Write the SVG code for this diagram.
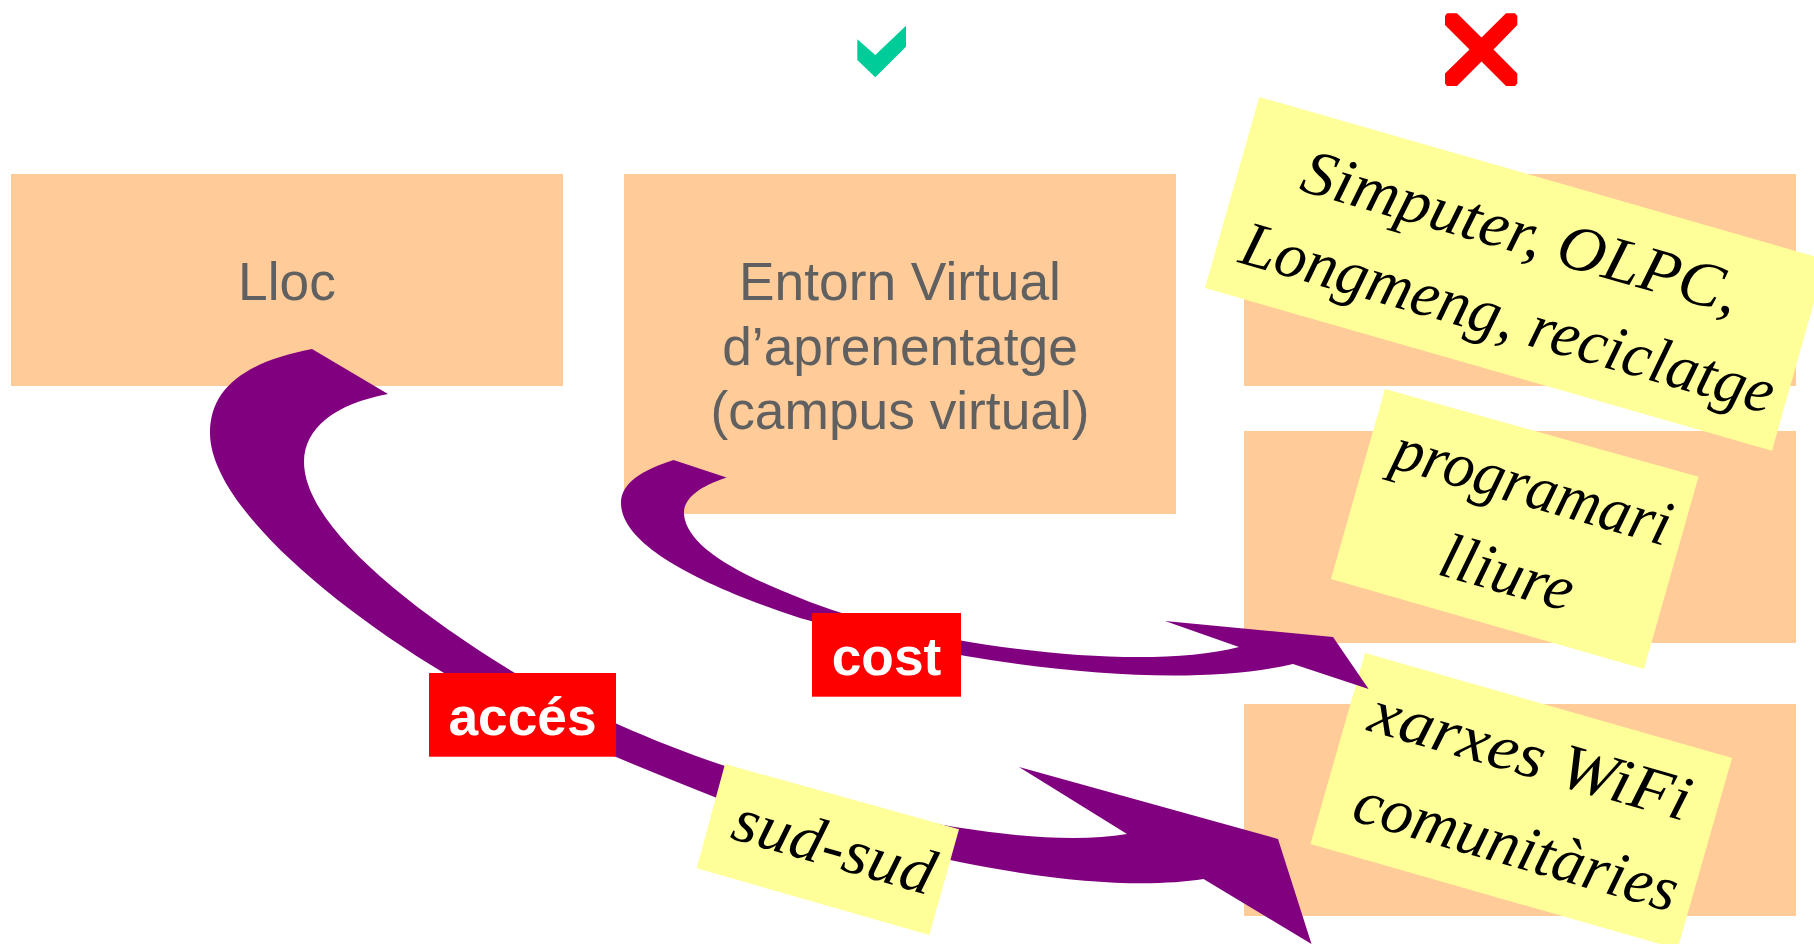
<svg xmlns="http://www.w3.org/2000/svg" width="1814" height="944" viewBox="0 0 1814 944">
<style>
.box{fill:#ffcc99}
.lbl{font-family:"Liberation Sans",Arial,sans-serif;font-size:53.3px;fill:#606060;text-anchor:middle}
.arrow{fill:#800080}
.tag{fill:#ff0000}
.tagt{font-family:"Liberation Sans",Arial,sans-serif;font-size:53.3px;font-weight:bold;fill:#fff;text-anchor:middle}
.note{fill:#ffff99}
.nt{font-family:"Liberation Serif","Times New Roman",serif;font-style:italic;font-size:64px;fill:#000}
</style>
<rect width="1814" height="944" fill="#fff"/>
<g id="check"><polygon fill="#00cc99" points="857.3,39.3 875.3,55 906,25.7 906,46.7 875.3,77.3 857.3,60"/></g>
<g id="cross"><polygon fill="#ff0000" points="1447,13.3 1457,13.3 1481.5,37.5 1506,13.3 1515,13.3 1517.3,16 1517.3,25 1493.5,49.5 1517.3,73.5 1517.3,83.5 1515,86 1506,86 1481.5,61.5 1457,86 1447,86 1445,83.5 1445,73.5 1469.5,49.5 1445,25 1445,16"/></g>
<g id="lloc"><rect class="box" x="11" y="174" width="552" height="212"/><text class="lbl" x="287" y="300">Lloc</text></g>
<g id="entorn"><rect class="box" x="624" y="174" width="552" height="340"/><text class="lbl" x="900" y="300">Entorn Virtual</text><text class="lbl" x="900" y="365">d’aprenentatge</text><text class="lbl" x="900" y="429">(campus virtual)</text></g>
<g id="box-r1"><rect class="box" x="1244" y="174" width="552" height="212"/></g>
<g id="box-r2"><rect class="box" x="1244" y="431" width="552" height="212"/></g>
<g id="box-r3"><rect class="box" x="1244" y="704" width="552" height="212"/></g>
<g id="note-xarxes"><polygon class="note" points="1365,653 1310.5,844 1677.5,949 1732,758"/><text class="nt" transform="translate(1366,730) rotate(16)" textLength="331" lengthAdjust="spacingAndGlyphs">xarxes WiFi</text><text class="nt" transform="translate(1350,820) rotate(16)">comunitàries</text></g>
<g id="connectors">
<path class="arrow" d="M388,394 C335,404 304,428 304,462 C304,520 395,600 515,673 C548,693 640,738 725,766 C860,815 1030,850 1127,834 L1019,767 L1278,839 L1311.5,944 L1203.5,879 C1120,892 970,878 717,798 C620,760 530,722 444,673 C320,598 210,500 210,433 C210,388 245,362 312,349 Z"/>
<path class="arrow" d="M726.5,477.4 C697,487 683,500 684,514 C686,545 735,573 800,598 C900,640 1130,675 1239,647 L1165,621 L1333,637 L1368.6,689 L1293,664 C1190,688 1000,675 800,618 C700,585 621,545 621,503 C621,483 642,470 673.5,460 Z"/>
</g>
<g id="tag-cost"><rect class="tag" x="812" y="613" width="149" height="83.7"/><text class="tagt" x="886.5" y="675">cost</text></g>
<g id="tag-acces"><rect class="tag" x="429" y="673" width="187" height="83.7"/><text class="tagt" x="522.5" y="735">accés</text></g>
<g id="note-sud"><polygon class="note" points="725,764 696.7,868.3 929.3,935 959,829.3"/><text class="nt" transform="translate(729,838) rotate(16)" textLength="207" lengthAdjust="spacingAndGlyphs">sud-sud</text></g>
<g id="note-simputer"><polygon class="note" points="1259.3,97 1205,288 1772,450.7 1826,259.7"/><text class="nt" transform="translate(1298,190) rotate(16)" textLength="452" lengthAdjust="spacingAndGlyphs">Simputer, OLPC,</text><text class="nt" transform="translate(1237,262) rotate(16)" textLength="552" lengthAdjust="spacingAndGlyphs">Longmeng, reciclatge</text></g>
<g id="note-programari"><polygon class="note" points="1385,389 1331,579 1644,669 1698.5,476.7"/><text class="nt" transform="translate(1389,467) rotate(16)" textLength="287" lengthAdjust="spacingAndGlyphs">programari</text><text class="nt" transform="translate(1436,574) rotate(16)">lliure</text></g>
</svg>
